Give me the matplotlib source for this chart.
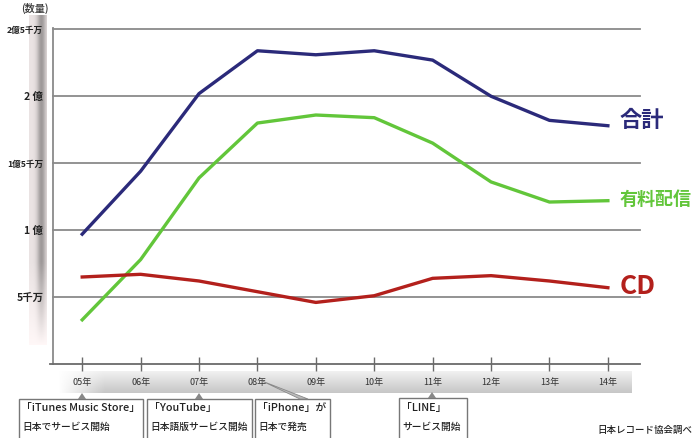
import matplotlib
matplotlib.use("Agg")
import matplotlib.pyplot as plt
import numpy as np
from matplotlib.patches import Rectangle, Polygon

plt.rcParams['font.family'] = ['Noto Sans CJK JP', 'DejaVu Sans']

years = ["05年", "06年", "07年", "08年", "09年", "10年", "11年", "12年", "13年", "14年"]
total = [97, 144, 202, 234, 231, 234, 227, 200, 182, 178]
digital = [33, 78, 139, 180, 186, 184, 165, 136, 121, 122]
cd = [65, 67, 62, 54, 46, 51, 64, 66, 62, 57]
ytick_vals = [50, 100, 150, 200, 250]
ytick_labels = ["5千万", "1 億", "1億5千万", "2 億", "2億5千万"]
series_names = ["合計", "有料配信", "CD"]
events = [("「iTunes Music Store」", "日本でサービス開始"),
          ("「YouTube」", "日本語版サービス開始"),
          ("「iPhone」が", "日本で発売"),
          ("「LINE」", "サービス開始")]

W, H = 700, 438
def fx(p): return p / W
def fy(p): return 1 - p / H

fig = plt.figure(figsize=(7, 4.38), dpi=100)
fig.patch.set_facecolor('white')

# left decorative gradient strip
bg1 = fig.add_axes([fx(29), fy(345), fx(46) - fx(29), fy(15) - fy(345)], zorder=0)
xs = np.linspace(0, 1, 40)
prof = 0.92 - 0.30 * np.exp(-((xs - 0.7) / 0.25) ** 2)
ys = np.linspace(0, 1, 200)
fade = np.clip(ys / 0.25, 0, 1)[:, None]
img = 1 - (1 - prof[None, :]) * fade
img = img[::-1]
bg1.imshow(np.dstack([img, img * 0.97, img * 0.97]), aspect='auto', extent=[0, 1, 0, 1])
bg1.axis('off')

# bottom decorative gradient band
bg2 = fig.add_axes([fx(58), fy(393), fx(632) - fx(58), fy(371) - fy(393)], zorder=0)
hx = np.linspace(0, 1, 300)
hprof = np.clip(hx / 0.08, 0, 1)
vy = np.linspace(0, 1, 30)
vprof = 0.78 + 0.17 * (1 - vy)
img2 = 1 - (1 - vprof[:, None]) * hprof[None, :]
bg2.imshow(np.dstack([img2, img2, img2]), aspect='auto', extent=[0, 1, 0, 1])
bg2.axis('off')

ax = fig.add_axes([fx(53), fy(364), fx(640) - fx(53), fy(28) - fy(364)], zorder=2)
ax.set_facecolor('none')
x = np.arange(len(years))
ax.set_xlim(-0.5, 9.55)
ax.set_ylim(0, 251)

for v in ytick_vals:
    ax.axhline(v, color='#8a8a8a', lw=1.3, zorder=1, clip_on=False)
ax.plot(x, total, color='#2b2a7a', lw=2.4, zorder=3, solid_joinstyle='round')
ax.plot(x, digital, color='#62c63a', lw=2.4, zorder=3, solid_joinstyle='round')
ax.plot(x, cd, color='#b3201c', lw=2.4, zorder=3, solid_joinstyle='round')

for s in ['top', 'right']:
    ax.spines[s].set_visible(False)
ax.spines['left'].set_color('#8a8a8a')
ax.spines['left'].set_linewidth(1.3)
ax.spines['bottom'].set_color('#6a6a6a')
ax.spines['bottom'].set_linewidth(1.3)
ax.spines['bottom'].set_bounds(-0.55, 9.55)

ax.set_xticks(x)
ax.set_xticklabels(years, fontsize=6.5, color='#333333')
ax.tick_params(axis='x', direction='inout', length=10, width=1, color='#6a6a6a', pad=5)
ax.set_yticks(ytick_vals)
ax.set_yticklabels(ytick_labels, color='#222222', fontweight='bold')
for lab in ax.get_yticklabels():
    t = lab.get_text()
    lab.set_fontsize(7.5 if (" " in t or len(t) <= 3) else 6.2)
ax.tick_params(axis='y', length=0, pad=7)

# series labels
ax.text(9.2, total[-1] + 4, series_names[0], color='#2b2a7a', fontsize=16, fontweight='bold', va='center', ha='left', clip_on=False)
ax.text(9.2, digital[-1] + 1, series_names[1], color='#62c63a', fontsize=13, fontweight='bold', va='center', ha='left', clip_on=False)
ax.text(9.2, cd[-1] + 1, series_names[2], color='#b3201c', fontsize=19, fontweight='bold', va='center', ha='left', clip_on=False)

fig.text(fx(21), fy(8), "(数量)", fontsize=7.3, color='#333333', va='center', ha='left', fontweight='medium')
fig.text(fx(692), fy(430), "日本レコード協会調べ", fontsize=6.8, color='#222222', va='center', ha='right', fontweight='medium')

# event boxes
boxes = [(19, 143, 399, 82), (147, 252, 399, 199), (255, 330, 399, None), (399, 467, 398, 432)]
for (x0, x1, ytop, tri), (l1, l2) in zip(boxes, events):
    r = Rectangle((fx(x0), fy(445)), fx(x1) - fx(x0), fy(ytop) - fy(445), transform=fig.transFigure,
                  facecolor='white', edgecolor='#777777', lw=1, zorder=5)
    fig.add_artist(r)
    if tri is not None:
        t = Polygon([(fx(tri - 4), fy(ytop)), (fx(tri + 4), fy(ytop)), (fx(tri), fy(ytop - 6))],
                    closed=True, transform=fig.transFigure, facecolor='#888888', edgecolor='none', zorder=6)
        fig.add_artist(t)
    fig.text(fx(x0 + 2), fy(408), l1, fontsize=7.8, color='#222222', va='center', ha='left', zorder=7, fontweight='medium')
    fig.text(fx(x0 + 3), fy(427), l2, fontsize=7, color='#222222', va='center', ha='left', zorder=7, fontweight='medium')

# iPhone callout wedge
w = Polygon([(fx(262), fy(381)), (fx(300), fy(399)), (fx(308), fy(399))], closed=True,
            transform=fig.transFigure, facecolor='#bbbbbb', edgecolor='#888888', lw=0.6, zorder=6)
fig.add_artist(w)

fig.savefig("out.png", dpi=100)
